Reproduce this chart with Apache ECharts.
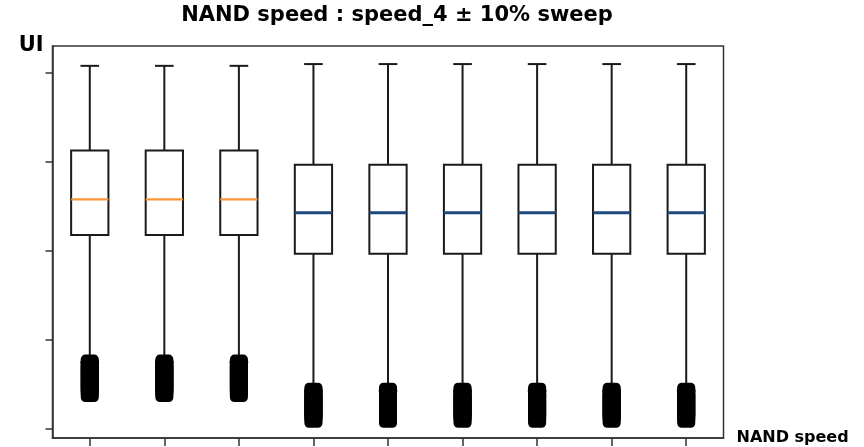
<!DOCTYPE html>
<html>
<head>
<meta charset="utf-8">
<script src="https://cdn.jsdelivr.net/npm/echarts@6/dist/echarts.min.js"></script>
<style>
html,body{margin:0;padding:0;background:#fff;}
#chart{width:864px;height:447px;}
</style>
</head>
<body>
<div id="chart"></div>
<script>
// ---- data ----
const categories = ['1', '2', '3', '4', '5', '6', '7', '8', '9'];
const upperWhisker = [0.708, 0.708, 0.708, 0.710, 0.710, 0.710, 0.710, 0.710, 0.710];
const q3Values     = [0.613, 0.613, 0.613, 0.597, 0.597, 0.597, 0.597, 0.597, 0.597];
const medianValues = [0.558, 0.558, 0.558, 0.543, 0.543, 0.543, 0.543, 0.543, 0.543];
const q1Values     = [0.518, 0.518, 0.518, 0.497, 0.497, 0.497, 0.497, 0.497, 0.497];
const lowerWhisker = [0.375, 0.375, 0.375, 0.343, 0.343, 0.343, 0.343, 0.343, 0.343];
const outliersNominal = [0.3735, 0.371, 0.368, 0.365, 0.362, 0.359, 0.356, 0.353, 0.350, 0.347, 0.344, 0.3405];
const outliersSwept   = [0.342, 0.339, 0.336, 0.333, 0.330, 0.327, 0.324, 0.321, 0.318, 0.315, 0.3115];
const outliersPerBox = [outliersNominal, outliersNominal, outliersNominal,
  outliersSwept, outliersSwept, outliersSwept, outliersSwept, outliersSwept, outliersSwept];
const medianGroup = [0, 0, 0, 1, 1, 1, 1, 1, 1];
const yTicks = [0.3, 0.4, 0.5, 0.6, 0.7];

// ---- styles ----
const medianColors = ['#fb9638', '#1f4a80'];
const lineColor = '#1a1a1a';
const FONT = '"DejaVu Sans", "Noto Sans", sans-serif';

const boxData = categories.map((c, i) => [i, lowerWhisker[i], q1Values[i], medianValues[i], q3Values[i], upperWhisker[i], medianGroup[i]]);
const outlierData = [];
outliersPerBox.forEach((arr, i) => arr.forEach(v => outlierData.push([i, v])));

function renderBox(params, api) {
  const x = api.value(0);
  const pLow = api.coord([x, api.value(1)]);
  const pQ1 = api.coord([x, api.value(2)]);
  const pMed = api.coord([x, api.value(3)]);
  const pQ3 = api.coord([x, api.value(4)]);
  const pHigh = api.coord([x, api.value(5)]);
  const band = api.size([1, 0])[0];
  const bw = band * 0.5, cw = band * 0.25;
  const cx = pMed[0];
  const ls = { stroke: lineColor, lineWidth: 2, fill: null };
  return {
    type: 'group',
    children: [
      { type: 'line', shape: { x1: cx, y1: pHigh[1], x2: cx, y2: pQ3[1] }, style: ls },
      { type: 'line', shape: { x1: cx, y1: pQ1[1], x2: cx, y2: pLow[1] }, style: ls },
      { type: 'line', shape: { x1: cx - cw / 2, y1: pHigh[1], x2: cx + cw / 2, y2: pHigh[1] }, style: ls },
      { type: 'line', shape: { x1: cx - cw / 2, y1: pLow[1], x2: cx + cw / 2, y2: pLow[1] }, style: ls },
      { type: 'rect', shape: { x: cx - bw / 2, y: pQ3[1], width: bw, height: pQ1[1] - pQ3[1] },
        style: { stroke: lineColor, lineWidth: 2, fill: '#fff' } },
      { type: 'line', shape: { x1: cx - bw / 2, y1: pMed[1], x2: cx + bw / 2, y2: pMed[1] },
        style: { stroke: medianColors[api.value(6)], lineWidth: api.value(6) === 0 ? 2.2 : 3 } }
    ]
  };
}

const chart = echarts.init(document.getElementById('chart'), null, { renderer: 'canvas' });
chart.setOption({
  animation: false,
  backgroundColor: '#fff',
  title: {
    text: 'NAND speed : speed_4 ± 10% sweep',
    left: 392, top: 0, textAlign: 'center',
    textStyle: { fontFamily: FONT, fontWeight: 'bold', fontSize: 21, color: '#000' }
  },
  grid: {
    left: 52.5, right: 140.5, top: 46, bottom: 9,
    show: true, borderColor: '#333', borderWidth: 1.5, backgroundColor: 'transparent'
  },
  xAxis: {
    type: 'category',
    data: categories,
    boundaryGap: true,
    name: 'NAND speed',
    nameLocation: 'end',
    nameGap: 13,
    nameTextStyle: { fontFamily: FONT, fontWeight: 'bold', fontSize: 16, color: '#000', verticalAlign: 'middle' },
    axisLine: { show: true, lineStyle: { color: '#333', width: 1.5 } },
    axisTick: { show: true, alignWithLabel: true, length: 8, lineStyle: { color: '#333', width: 1.5 } },
    axisLabel: { show: false },
    splitLine: { show: false }
  },
  yAxis: {
    type: 'value',
    min: 0.2899, max: 0.7303,
    name: 'UI',
    nameLocation: 'end',
    nameGap: 0,
    nameTextStyle: { fontFamily: FONT, fontWeight: 'bold', fontSize: 21, color: '#000', align: 'right', verticalAlign: 'middle', padding: [0, 9, 0, 0] },
    axisLine: { show: true, lineStyle: { color: '#333', width: 1.5 } },
    axisTick: { show: true, length: 7, customValues: yTicks, lineStyle: { color: '#333', width: 1.5 } },
    axisLabel: { show: false },
    splitLine: { show: false }
  },
  series: [
    {
      type: 'custom',
      renderItem: renderBox,
      encode: { x: 0, y: [1, 2, 3, 4, 5] },
      data: boxData,
      z: 2
    },
    {
      type: 'scatter',
      data: outlierData,
      symbol: 'roundRect',
      symbolSize: 18,
      itemStyle: { color: '#000', opacity: 1, borderWidth: 0 },
      z: 3,
      silent: true
    }
  ]
});
</script>
</body>
</html>
